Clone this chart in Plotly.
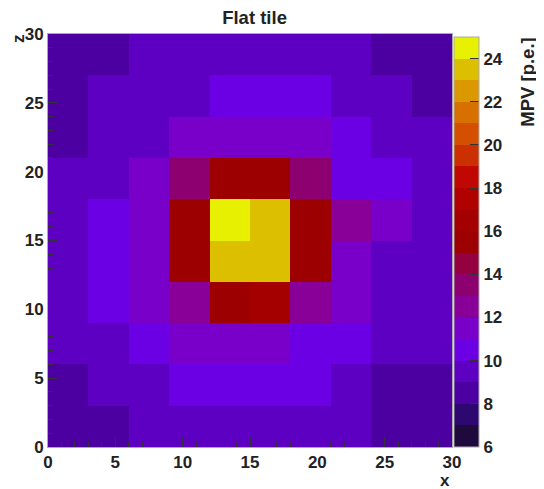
import plotly.graph_objects as go

# ---- data ----
x_centers = [1.5, 4.5, 7.5, 10.5, 13.5, 16.5, 19.5, 22.5, 25.5, 28.5]
z_centers = [1.5, 4.5, 7.5, 10.5, 13.5, 16.5, 19.5, 22.5, 25.5, 28.5]
# rows from z=0-3 (bottom) to z=27-30 (top)
mpv = [
    [8.5, 8.5, 9.5, 9.5, 9.5, 9.5, 9.5, 9.5, 8.5, 8.5],
    [8.5, 9.5, 9.5, 10.5, 10.5, 10.5, 10.5, 9.5, 8.5, 8.5],
    [9.5, 9.5, 10.5, 11.5, 11.5, 11.5, 10.5, 10.5, 9.5, 9.5],
    [9.5, 10.5, 11.5, 12.5, 15.5, 16.5, 12.8, 11.5, 9.5, 9.5],
    [9.5, 10.5, 11.5, 15.5, 23.5, 23.5, 15.5, 11.5, 9.5, 9.5],
    [9.5, 10.5, 11.5, 15.5, 24.5, 23.5, 15.5, 12.5, 11.5, 9.5],
    [9.5, 9.5, 11.5, 13.2, 15.5, 15.5, 13.2, 10.5, 10.5, 9.5],
    [8.5, 9.5, 9.5, 11.5, 11.5, 11.5, 11.5, 10.5, 9.5, 9.5],
    [8.5, 9.5, 9.5, 9.5, 10.5, 10.5, 10.5, 9.5, 9.5, 8.5],
    [8.5, 8.5, 9.5, 9.5, 9.5, 9.5, 9.5, 9.5, 8.5, 8.5],
]
zmin, zmax = 6, 25
palette = [
    "#1e0a3c", "#2c0870", "#4c00a2", "#5e00c2", "#6c00e4", "#7800c8",
    "#880098", "#8c0070", "#940040", "#9c0000", "#a40000", "#b00000",
    "#c00800", "#cc3000", "#d45000", "#d87000", "#dc9800", "#dcc000",
    "#e6f000",
]
cbar_ticks = [6, 8, 10, 12, 14, 16, 18, 20, 22, 24]
x_ticks = [0, 5, 10, 15, 20, 25, 30]
z_ticks = [0, 5, 10, 15, 20, 25, 30]

n = len(palette)
colorscale = []
for i, c in enumerate(palette):
    colorscale.append([i / n, c])
    colorscale.append([(i + 1) / n, c])

font_fam = "Liberation Sans, Arial, sans-serif"
bold = dict(family=font_fam, size=17, color="#222", weight="bold")
bold_big = dict(family=font_fam, size=18.5, color="#222", weight="bold")

fig = go.Figure(go.Heatmap(
    x=x_centers, y=z_centers, z=mpv,
    zmin=zmin, zmax=zmax, colorscale=colorscale,
    colorbar=dict(
        x=1.005, xanchor="left", y=0, yanchor="bottom", len=0.993,
        thickness=25, thicknessmode="pixels", lenmode="fraction",
        tickvals=cbar_ticks, ticks="inside", ticklen=9, tickcolor="#333",
        tickwidth=1, tickfont=bold, outlinewidth=1, outlinecolor="#aaa",
        xpad=0, ypad=0,
    ),
))

fig.update_layout(
    width=536, height=481,
    margin=dict(l=40, r=92, t=26, b=42, autoexpand=False),
    paper_bgcolor="white", plot_bgcolor="white",
    title=dict(text="Flat tile", x=0.46, xanchor="center", y=0.981,
               yanchor="middle", font=bold_big),
    font=bold,
)
fig.update_xaxes(
    range=[0, 30], tickvals=x_ticks, ticks="inside", ticklen=10,
    tickcolor="#333", showgrid=False, zeroline=False, showline=True,
    linecolor="#aaa", mirror=True, tickfont=bold, ticklabelstandoff=0,
    minor=dict(dtick=1, ticks="inside", ticklen=5, tickcolor="#333"),
)
fig.update_yaxes(
    range=[0, 30], tickvals=z_ticks, ticks="inside", ticklen=10,
    tickcolor="#333", showgrid=False, zeroline=False, showline=True,
    linecolor="#aaa", mirror=True, tickfont=bold, ticklabelstandoff=0,
    minor=dict(dtick=1, ticks="inside", ticklen=5, tickcolor="#333"),
)
fig.add_annotation(text="x", xref="paper", yref="paper", x=1.0, y=-0.08,
                   xanchor="right", yanchor="middle", showarrow=False,
                   font=bold)
fig.add_annotation(text="z", xref="paper", yref="paper", x=-0.073, y=1.005,
                   xanchor="center", yanchor="top", showarrow=False,
                   textangle=-90, font=bold)
fig.add_annotation(text="MPV [p.e.]", xref="paper", yref="paper", x=1.186,
                   y=0.995, xanchor="center", yanchor="top", showarrow=False,
                   textangle=-90, font=bold_big)

fig.write_html("out.html")
